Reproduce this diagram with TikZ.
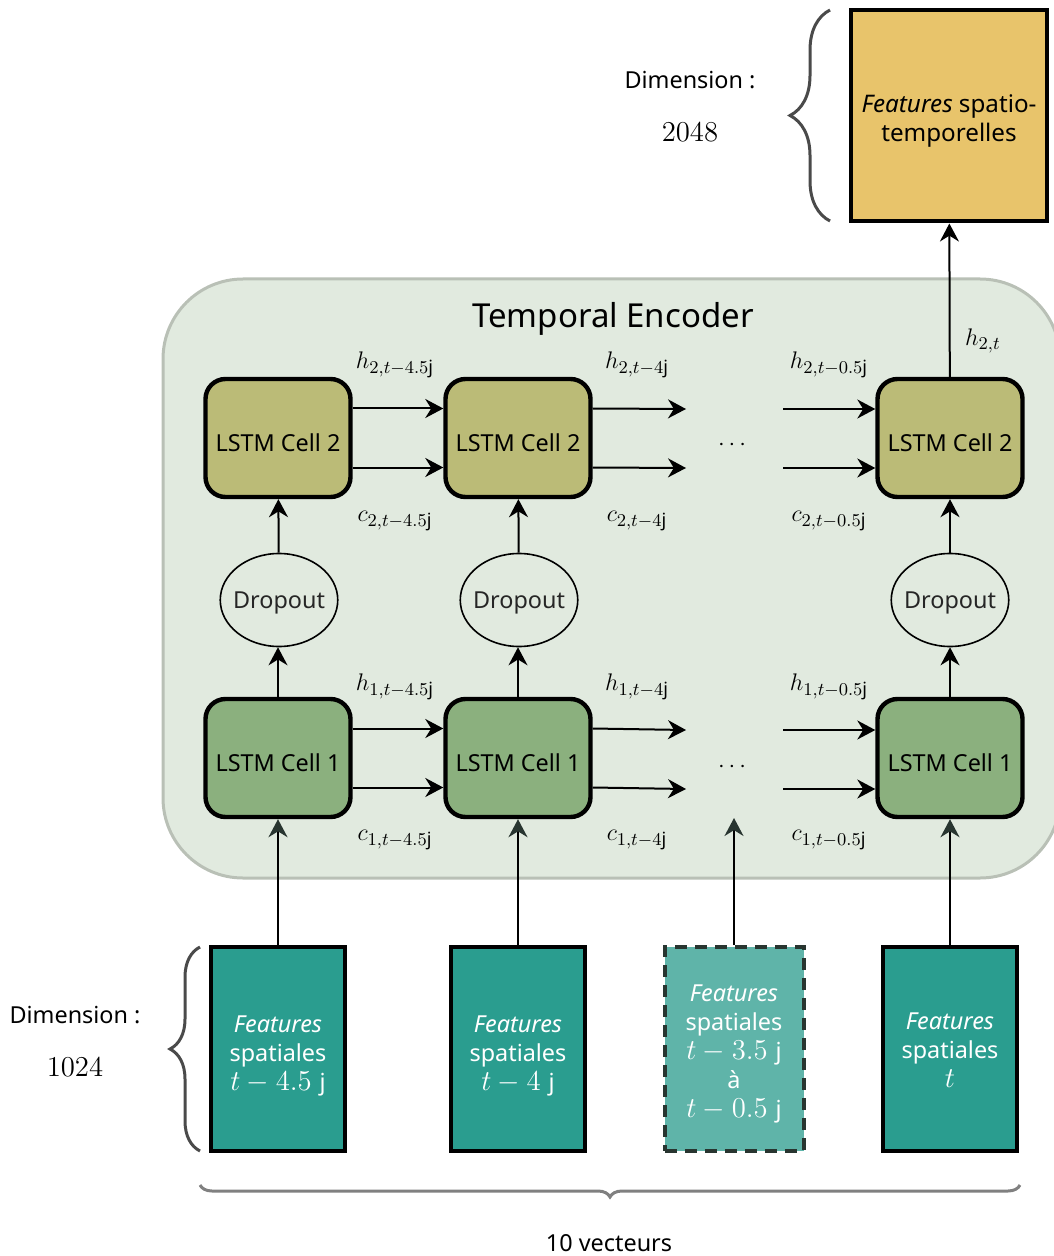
\documentclass[tikz,border=0pt]{standalone}
\usepackage{amsmath}
\usepackage{fontspec}
\setmainfont{Noto Sans}
\usepackage{xcolor}
\usetikzlibrary{positioning,shapes.geometric,arrows.meta,calc,decorations.pathreplacing}

\definecolor{encfill}{HTML}{E1EADF}
\definecolor{encdraw}{HTML}{B9C0B6}
\definecolor{celltwo}{HTML}{BBBB77}
\definecolor{cellone}{HTML}{8BB07E}
\definecolor{featfill}{HTML}{2A9D8F}
\definecolor{featlight}{HTML}{5FB4A9}
\definecolor{featdash}{HTML}{283530}
\definecolor{outfill}{HTML}{E8C46B}
\definecolor{bracegray}{HTML}{4A4A4A}

% lowered multi-line text, box size kept
\newcommand{\lowtxt}[2]{\raisebox{-#1}[\height][\depth]{\begin{tabular}{@{}c@{}}#2\end{tabular}}}
\newcommand{\boxmath}[1]{{\fontsize{14.2}{14.5}\selectfont$#1$}}

\tikzset{
  txt/.style={font=\fontsize{11.7}{14.5}\selectfont},
  lbl/.style={font=\fontsize{13}{15}\selectfont},
  cellbox/.style={txt, draw, line width=2.2pt, rounded corners=10pt,
    minimum width=72.5pt, minimum height=59pt, inner sep=0pt, text height=13.5pt},
  dropnode/.style={txt, draw, ellipse, line width=0.8pt, text=black!85,
    minimum height=46.5pt, inner xsep=-2.2pt, inner ysep=0pt, text height=11pt},
  featbox/.style={txt, draw, line width=2pt, fill=featfill, text=white,
    minimum width=67pt, minimum height=102pt, inner sep=0pt},
  link/.style={->, line width=1pt},
  inlink/.style={-{Stealth[length=9pt, width=9.5pt, color=featdash]}, line width=1pt},
  dimbrace/.style={decorate, decoration={brace, amplitude=#1}, line width=1.5pt, bracegray},
}

\begin{document}
\begin{tikzpicture}[x=0.5pt, y=-0.5pt, >={Stealth[length=9pt, width=9.5pt]}]
\useasboundingbox (0,0) rectangle (1053,1256);

% Encoder background
\draw[encdraw, fill=encfill, line width=1.5pt, rounded corners=40pt]
  (163,279) rectangle (1060,878);
\node[font=\fontsize{16.5}{18}\selectfont] (enc) at (613,319) {Temporal Encoder};

% LSTM cells, layer 2
\node[cellbox, fill=celltwo] (c2a) at (278,438) {LSTM Cell 2};
\node[cellbox, fill=celltwo] (c2b) at (518,438) {LSTM Cell 2};
\node[cellbox, fill=celltwo] (c2c) at (950,438) {LSTM Cell 2};

% Dropout
\node[dropnode] (da) at (279,600) {Dropout};
\node[dropnode] (db) at (519,600) {Dropout};
\node[dropnode] (dc) at (950,600) {Dropout};

% LSTM cells, layer 1
\node[cellbox, fill=cellone] (c1a) at (278,758) {LSTM Cell 1};
\node[cellbox, fill=cellone] (c1b) at (518,758) {LSTM Cell 1};
\node[cellbox, fill=cellone] (c1c) at (950,758) {LSTM Cell 1};

% Spatial features (inputs)
\node[featbox] (fa) at (278,1049)
  {\lowtxt{3.5pt}{\textit{Features}\\spatiales\\\boxmath{t-4.5}\,\,j}};
\node[featbox] (fb) at (518,1049)
  {\lowtxt{3.5pt}{\textit{Features}\\spatiales\\\boxmath{t-4}\,\,j}};
\node[featbox, fill=featlight, draw=featdash, dashed, dash pattern=on 6pt off 4pt,
  minimum width=69.5pt] (fc) at (734,1049)
  {\lowtxt{2.5pt}{\textit{Features}\\spatiales\\\boxmath{t-3.5}\,\,j\\à\\\boxmath{t-0.5}\,\,j}};
\node[featbox] (fd) at (950,1049)
  {\lowtxt{2pt}{\textit{Features}\\spatiales\\\boxmath{t}}};

% Output
\node[font=\fontsize{12.1}{14.5}\selectfont, draw, line width=2pt, fill=outfill,
  minimum width=98pt, minimum height=105.5pt, inner sep=0pt] (out) at (949,116)
  {\lowtxt{2.5pt}{\textit{Features} spatio-\\temporelles}};

% Free ends of the recurrent links
\coordinate (e2u) at (686,409);
\coordinate (e2l) at (686,468);
\coordinate (s2u) at (783,409);
\coordinate (s2l) at (783,468);
\coordinate (e1u) at (686,730);
\coordinate (e1l) at (686,789);
\coordinate (s1u) at (783,730);
\coordinate (s1l) at (783,789);
\coordinate (fce) at (734,818);

% Recurrent links
\draw[link] ([yshift=14.75pt]c2a.east) -- ([yshift=14.75pt]c2b.west);
\draw[link] ([yshift=-14.75pt]c2a.east) -- ([yshift=-14.75pt]c2b.west);
\draw[link] ([yshift=14.75pt]c2b.east) -- (e2u);
\draw[link] ([yshift=-14.75pt]c2b.east) -- (e2l);
\draw[link] (s2u) -- (s2u -| c2c.west);
\draw[link] (s2l) -- (s2l -| c2c.west);
\draw[link] ([yshift=14.75pt]c1a.east) -- ([yshift=14.75pt]c1b.west);
\draw[link] ([yshift=-14.75pt]c1a.east) -- ([yshift=-14.75pt]c1b.west);
\draw[link] ([yshift=14.75pt]c1b.east) -- (e1u);
\draw[link] ([yshift=-14.75pt]c1b.east) -- (e1l);
\draw[link] (s1u) -- (s1u -| c1c.west);
\draw[link] (s1l) -- (s1l -| c1c.west);

% Vertical links
\foreach \col in {a,b,c}{
  \draw[link] (c1\col) -- (c1\col |- d\col.south);
  \draw[link] (d\col) -- (c2\col);
}
\draw[inlink] (fa) -- (c1a);
\draw[inlink] (fb) -- (c1b);
\draw[inlink] (fc) -- (fce);
\draw[inlink] (fd) -- (c1c);
\draw[link] (c2c) -- (out);

% Dots
\node[lbl] (dots2) at (734,445) {$\cdots$};
\node[lbl] (dots1) at (734,767) {$\cdots$};

% Hidden and cell states
\node[lbl] (h2a) at (395,365) {$h_{2,t-4.5\mathrm{j}}$};
\node[lbl] (h2b) at (637,365) {$h_{2,t-4\mathrm{j}}$};
\node[lbl] (h2c) at (829,365) {$h_{2,t-0.5\mathrm{j}}$};
\node[lbl] (c2la) at (395,521) {$c_{2,t-4.5\mathrm{j}}$};
\node[lbl] (c2lb) at (637,521) {$c_{2,t-4\mathrm{j}}$};
\node[lbl] (c2lc) at (829,521) {$c_{2,t-0.5\mathrm{j}}$};
\node[lbl] (h1a) at (395,687) {$h_{1,t-4.5\mathrm{j}}$};
\node[lbl] (h1b) at (637,687) {$h_{1,t-4\mathrm{j}}$};
\node[lbl] (h1c) at (829,687) {$h_{1,t-0.5\mathrm{j}}$};
\node[lbl] (c1la) at (395,840) {$c_{1,t-4.5\mathrm{j}}$};
\node[lbl] (c1lb) at (637,840) {$c_{1,t-4\mathrm{j}}$};
\node[lbl] (c1lc) at (829,840) {$c_{1,t-0.5\mathrm{j}}$};
\node[lbl] (h2t) at (983,341) {$h_{2,t}$};

% Dimensions
\draw[dimbrace=20pt] (830,221) -- (830,10);
\node[txt] (dimo) at (690,80) {Dimension :};
\node[font=\fontsize{14}{16}\selectfont] (dimov) at (690,132) {$2048$};
\draw[dimbrace=15pt] (200,1151) -- (200,947);
\node[txt] (dimi) at (75,1015) {Dimension :};
\node[font=\fontsize{14}{16}\selectfont] (dimiv) at (75,1067) {$1024$};

% Number of vectors
\draw[decorate, decoration={brace, amplitude=6pt}, line width=1.5pt, gray]
  (1020,1185) -- (200,1185);
\node[txt] (nvec) at (609,1243) {10 vecteurs};

\end{tikzpicture}
\end{document}
